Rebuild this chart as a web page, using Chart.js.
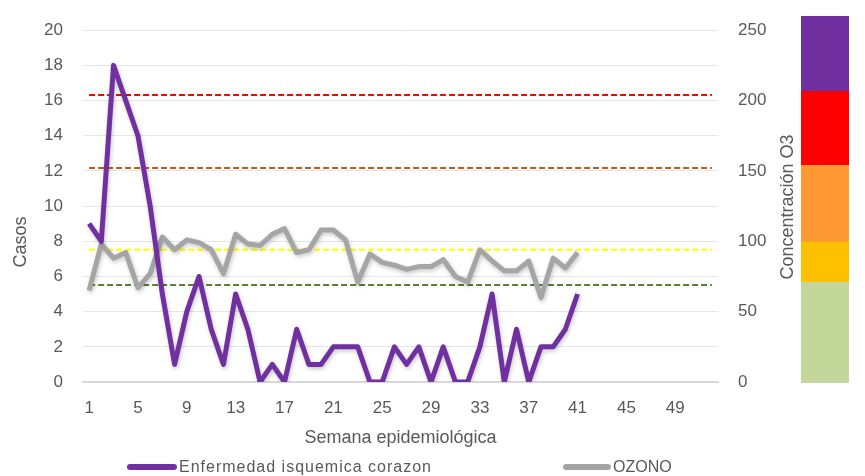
<!DOCTYPE html>
<html>
<head>
<meta charset="utf-8">
<script src="https://cdn.jsdelivr.net/npm/chart.js@4"></script>
<style>
  body { margin: 0; background: #fff; font-family: "Liberation Sans", Arial, sans-serif; }
  #wrap { position: relative; width: 865px; height: 476px; overflow: hidden; }
  #grafico { position: absolute; left: 0; top: 0; }
  #barraO3 { position: absolute; left: 801px; top: 16px; }
  .titulo-y { position: absolute; font-size: 18px; line-height: 20px; height: 20px; color: #595959;
              white-space: nowrap; text-align: center; transform: rotate(-90deg); }
  .leyenda { position: absolute; top: 457px; height: 20px; line-height: 20px; font-size: 16px; color: #595959;
             white-space: nowrap; display: flex; align-items: center; }
  .leyenda span.linea { display: inline-block; height: 6px; border-radius: 3px; margin-right: 2px; }
</style>
</head>
<body>
<div id="wrap">
  <canvas id="grafico" width="808" height="476"></canvas>
  <canvas id="barraO3" width="48" height="367"></canvas>
  <div class="titulo-y" style="left:-10px; top:232px; width:60px;">Casos</div>
  <div class="titulo-y" style="left:707px; top:197px; width:160px;">Concentración O3</div>
  <div class="leyenda" style="left:127px;"><span class="linea" id="sw1" style="width:50px;"></span><span style="letter-spacing:1px;">Enfermedad isquemica corazon</span></div>
  <div class="leyenda" style="left:563px;"><span class="linea" id="sw2" style="width:48px;"></span><span>OZONO</span></div>
</div>
<script>
// semanas epidemiologicas
const semanas = ['1','2','3','4','5','6','7','8','9','10','11','12','13','14','15','16','17','18','19','20',
  '21','22','23','24','25','26','27','28','29','30','31','32','33','34','35','36','37','38','39','40',
  '41','42','43','44','45','46','47','48','49','50','51','52'];
const etiquetasX = ['1','5','9','13','17','21','25','29','33','37','41','45','49'];

// casos enfermedad isquemica del corazon (eje izquierdo)
const casos = [9, 8, 18, 16, 14, 10, 5, 1, 4, 6, 3, 1, 5, 3, 0, 1, 0, 3, 1, 1,
  2, 2, 2, 0, 0, 2, 1, 2, 0, 2, 0, 0, 2, 5, 0, 3, 0, 2, 2, 3, 5];

// ozono (eje derecho)
const ozono = [65, 98, 88, 92, 67, 77, 103, 94, 101, 99, 94, 77, 105, 98, 97, 105, 109, 92, 94, 108,
  108, 101, 71, 91, 85, 83, 80, 82, 82, 87, 75, 71, 94, 86, 79, 79, 86, 60, 88, 81, 92];

// umbrales de O3 (lineas punteadas)
const umbrales = [204, 152, 94, 69];
const coloresUmbral = ['#FF0000', '#C55A11', '#FFFF00', '#548235'];

// rangos de la barra de colores
const rangosO3 = [[0, 71], [71, 99], [99, 153], [153, 205], [205, 258]];
const coloresRango = ['#C4D79B', '#FFC000', '#FF9933', '#FF0000', '#7030A0'];

const colorCasos = '#7030A0';
const colorOzono = '#A5A5A5';
const gris = '#595959';

Chart.defaults.font.family = '"Liberation Sans", Arial, sans-serif';
Chart.defaults.color = gris;

document.getElementById('sw1').style.background = colorCasos;
document.getElementById('sw2').style.background = colorOzono;

// sombra suave bajo las dos series principales
const sombra = {
  id: 'sombra',
  beforeDatasetDraw(chart, args) {
    if (args.index > 1) return;
    const ctx = chart.ctx;
    ctx.save();
    ctx.shadowColor = 'rgba(0,0,0,0.22)';
    ctx.shadowBlur = 4;
    ctx.shadowOffsetX = 1;
    ctx.shadowOffsetY = 2;
  },
  afterDatasetDraw(chart, args) {
    if (args.index > 1) return;
    chart.ctx.restore();
  }
};

const lineasUmbral = umbrales.map((v, i) => ({
  label: 'umbral' + i,
  data: [{ x: semanas[0], y: v }, { x: semanas[semanas.length - 1], y: v }],
  yAxisID: 'y2',
  borderColor: coloresUmbral[i],
  borderWidth: 2,
  borderDash: [6, 3],
  pointRadius: 0,
  fill: false
}));

new Chart(document.getElementById('grafico'), {
  type: 'line',
  data: {
    labels: semanas,
    datasets: [
      {
        label: 'Enfermedad isquemica corazon',
        data: casos,
        yAxisID: 'y',
        borderColor: colorCasos,
        borderWidth: 5,
        borderJoinStyle: 'round',
        pointRadius: 0,
        fill: false
      },
      {
        label: 'OZONO',
        data: ozono,
        yAxisID: 'y2',
        borderColor: colorOzono,
        borderWidth: 5,
        borderJoinStyle: 'round',
        pointRadius: 0,
        fill: false
      }
    ].concat(lineasUmbral)
  },
  options: {
    responsive: false,
    animation: false,
    layout: { padding: { top: 27, left: 0, right: 0, bottom: 0 } },
    plugins: { legend: { display: false }, tooltip: { enabled: false } },
    scales: {
      x: {
        offset: true,
        grid: { display: false, drawTicks: false },
        border: { color: '#D9D9D9', width: 2 },
        ticks: {
          autoSkip: false, maxRotation: 0, minRotation: 0, padding: 16,
          color: gris, font: { size: 17 },
          callback: function (v) {
            const l = this.getLabelForValue(v);
            return etiquetasX.includes(l) ? l : '';
          }
        },
        title: { display: true, text: 'Semana epidemiológica', color: gris, font: { size: 18 }, padding: { top: 0, bottom: 27 } },
        afterFit: function (s) { s.height = 94; }
      },
      y: {
        position: 'left', min: 0, max: 20,
        grid: { color: '#E6E6E6', lineWidth: 1, drawTicks: false },
        border: { display: false },
        ticks: { stepSize: 2, padding: 20, color: gris, font: { size: 17 } },
        afterFit: function (s) { s.width = 83; }
      },
      y2: {
        position: 'right', min: 0, max: 250,
        grid: { drawOnChartArea: false, drawTicks: false },
        border: { display: false },
        ticks: { stepSize: 50, padding: 20, color: gris, font: { size: 17 } },
        afterFit: function (s) { s.width = 90; }
      }
    }
  },
  plugins: [sombra]
});

// barra de colores de concentracion O3
new Chart(document.getElementById('barraO3'), {
  type: 'bar',
  data: {
    labels: ['O3'],
    datasets: rangosO3.map((r, i) => ({
      data: [r],
      backgroundColor: coloresRango[i],
      borderWidth: 0,
      barPercentage: 1,
      categoryPercentage: 1,
      grouped: false
    }))
  },
  options: {
    responsive: false,
    animation: false,
    layout: { padding: 0 },
    plugins: { legend: { display: false }, tooltip: { enabled: false } },
    scales: {
      x: { display: false },
      y: { display: false, min: 0, max: 258 }
    }
  }
});
</script>
</body>
</html>
